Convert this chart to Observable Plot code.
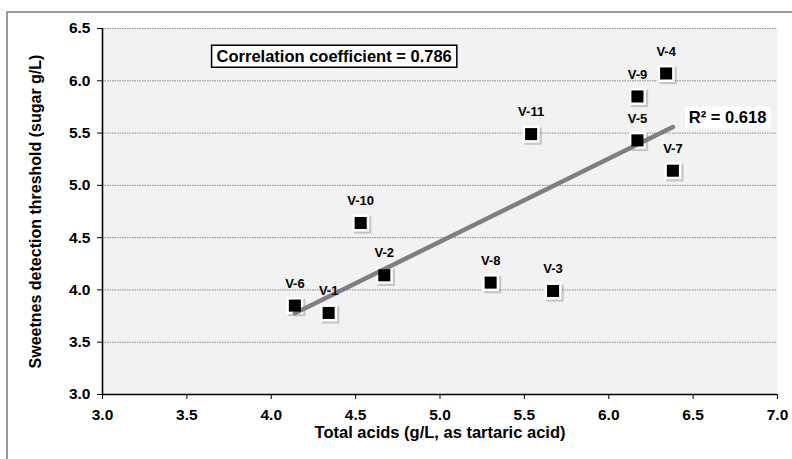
<!DOCTYPE html>
<html>
<head>
<meta charset="utf-8">
<script src="https://cdn.jsdelivr.net/npm/d3@7"></script>
<script src="https://cdn.jsdelivr.net/npm/@observablehq/plot@0.6"></script>
<style>
  html, body { margin: 0; padding: 0; background: #fff; }
  #wrap { position: relative; width: 792px; height: 459px; overflow: hidden; }
  #edge { position: absolute; left: 6px; top: 11px; width: 900px; height: 600px;
          border-left: 2px solid #9a9a9a; border-top: 2px solid #9a9a9a; pointer-events: none; }
  #wrap svg { position: absolute; left: 0; top: 0; }
</style>
</head>
<body>
<div id="wrap"><div id="edge"></div></div>
<script>
// ---- data ----
const wines = ["V-1", "V-2", "V-3", "V-4", "V-5", "V-6", "V-7", "V-8", "V-9", "V-10", "V-11"];
const totalAcids = [4.34, 4.67, 5.67, 6.34, 6.17, 4.14, 6.38, 5.30, 6.17, 4.53, 5.54];
const sweetThreshold = [3.78, 4.14, 3.99, 6.07, 5.43, 3.85, 5.14, 4.07, 5.85, 4.64, 5.49];
const xTicks = [3.0, 3.5, 4.0, 4.5, 5.0, 5.5, 6.0, 6.5, 7.0];
const yTicks = [3.0, 3.5, 4.0, 4.5, 5.0, 5.5, 6.0, 6.5];
const xTitle = "Total acids (g/L, as tartaric acid)";
const yTitle = "Sweetnes detection threshold (sugar g/L)";
const corrText = "Correlation coefficient = 0.786";
const corrAt = [4.373, 6.228];
const r2Text = "R² = 0.618";
const r2At = [6.704, 5.644];

const data = wines.map((w, i) => ({name: w, x: totalAcids[i], y: sweetThreshold[i]}));
const fmt = d => d.toFixed(1);

const chart = Plot.plot({
  width: 792,
  height: 459,
  marginLeft: 102,
  marginRight: 15,
  marginTop: 28,
  marginBottom: 65,
  style: {fontFamily: "'Liberation Sans', Arial, sans-serif", fontWeight: "bold", fontSize: "15px", color: "#000", background: "transparent"},
  x: {domain: [xTicks[0], xTicks[xTicks.length - 1]], ticks: xTicks, tickFormat: fmt, tickSize: 5, tickPadding: 9, label: null},
  y: {domain: [yTicks[0], yTicks[yTicks.length - 1]], ticks: yTicks, tickFormat: fmt, tickSize: 5, tickPadding: 7, label: null},
  marks: [
    Plot.frame({fill: "#f2f2f2", stroke: "none"}),
    Plot.ruleY(yTicks.filter(d => d > yTicks[0]), {stroke: "#8a8a8a", strokeWidth: 1, strokeDasharray: "1.5,1"}),
    Plot.ruleX([xTicks[0]], {stroke: "#000", strokeWidth: 1.6}),
    Plot.ruleY([yTicks[0]], {stroke: "#000", strokeWidth: 1.6}),
    Plot.dot(data, {x: "x", y: "y", symbol: "square", r: 9.8, fill: "#000", fillOpacity: 0.18, stroke: "none", dx: 2, dy: 2}),
    Plot.dot(data, {x: "x", y: "y", symbol: "square", r: 9.6, fill: "#fff", stroke: "none"}),
    Plot.linearRegressionY(data, {x: "x", y: "y", stroke: "#7f7f7f", strokeWidth: 4.5, ci: 0}),
    Plot.dot(data, {x: "x", y: "y", symbol: "square", r: 6.8, fill: "#000", stroke: "none"}),
    Plot.text(data, {x: "x", y: "y", text: "name", dy: -22, fontSize: 13, fontWeight: "bold", fill: "#000"}),
    Plot.text([corrText], {x: () => corrAt[0], y: () => corrAt[1], text: d => d, fontSize: 16.5, fontWeight: "bold"}),
    Plot.text([r2Text], {x: () => r2At[0], y: () => r2At[1], text: d => d, fontSize: 16.5, fontWeight: "bold"}),
    Plot.text([xTitle], {frameAnchor: "bottom", text: d => d, dy: 43, fontSize: 16.5, fontWeight: "bold"}),
    Plot.text([yTitle], {frameAnchor: "left", textAnchor: "middle", text: d => d, dx: -66.5, rotate: -90, fontSize: 16, fontWeight: "bold"})
  ]
});

document.getElementById("wrap").append(chart);

// tick labels: larger bold text like the reference
const tickLabels = new Set([...xTicks, ...yTicks].map(fmt));
chart.querySelectorAll("text").forEach(t => {
  if (tickLabels.has(t.textContent)) {
    t.style.fontSize = "15.5px";
    t.style.fontWeight = "bold";
    t.style.fill = "#000";
  }
});

function boxify(str, stroke, strokeWidth, padX, padY) {
  chart.querySelectorAll("text").forEach(t => {
    if (t.textContent !== str) return;
    const b = t.getBBox();
    const r = document.createElementNS("http://www.w3.org/2000/svg", "rect");
    r.setAttribute("x", b.x - padX);
    r.setAttribute("y", b.y - padY);
    r.setAttribute("width", b.width + 2 * padX);
    r.setAttribute("height", b.height + 2 * padY);
    r.setAttribute("fill", "#fff");
    r.setAttribute("stroke", stroke);
    r.setAttribute("stroke-width", strokeWidth);
    const tr = t.getAttribute("transform");
    if (tr) r.setAttribute("transform", tr);
    t.parentNode.insertBefore(r, t);
  });
}
boxify(corrText, "#000", 1.5, 5, 2);
boxify(r2Text, "none", 0, 4, 2);
</script>
</body>
</html>
